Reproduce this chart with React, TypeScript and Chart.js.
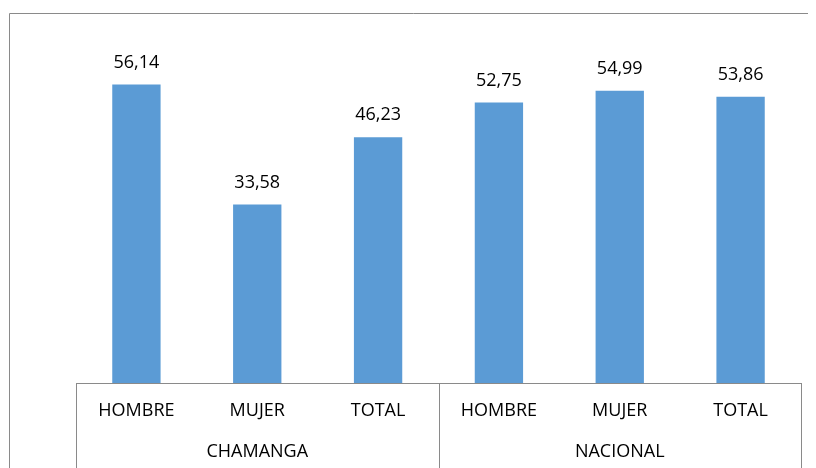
import React, { useEffect, useRef } from "react";
import { Chart, registerables } from "chart.js";

Chart.register(...registerables);

const categories = ["HOMBRE", "MUJER", "TOTAL", "HOMBRE", "MUJER", "TOTAL"];
const groups = ["CHAMANGA", "NACIONAL"];
const values = [56.14, 33.58, 46.23, 52.75, 54.99, 53.86];

const FONT = "'Open Sans', 'Liberation Sans', sans-serif";
const BAR = "#5B9BD5";
const LINE = "#8a8a8a";

const fmt = (v: number) => v.toFixed(2).replace(".", ",");

const decorPlugin = {
  id: "decor",
  beforeDraw(chart: any) {
    const ctx = chart.ctx;
    ctx.save();
    ctx.strokeStyle = LINE;
    ctx.lineWidth = 1;
    ctx.beginPath();
    ctx.moveTo(1.5, chart.height + 10);
    ctx.lineTo(1.5, 5.5);
    ctx.lineTo(chart.width + 10, 5.5);
    ctx.stroke();
    ctx.restore();
  },
  afterDraw(chart: any) {
    const ctx = chart.ctx;
    const g = chart.scales.x2;
    const area = chart.chartArea;
    const b0 = g.left;
    const b2 = g.right;
    const b1 = (g.getPixelForValue(0) + g.getPixelForValue(1)) / 2;
    ctx.save();
    ctx.strokeStyle = LINE;
    ctx.lineWidth = 1;
    ctx.beginPath();
    [b0, b1, b2].forEach((x) => {
      const px = Math.round(x) + 0.5;
      ctx.moveTo(px, Math.round(area.bottom));
      ctx.lineTo(px, chart.height);
    });
    ctx.stroke();

    const meta = chart.getDatasetMeta(0);
    ctx.fillStyle = "#000";
    ctx.font = `18px ${FONT}`;
    ctx.textAlign = "center";
    ctx.textBaseline = "middle";
    meta.data.forEach((bar: any, i: number) => {
      ctx.fillText(fmt(values[i]), bar.x, bar.y - 22);
    });
    ctx.restore();
  },
};

export default function App() {
  const ref = useRef<HTMLCanvasElement>(null);
  useEffect(() => {
    document.documentElement.style.overflow = "hidden";
    document.body.style.overflow = "hidden";
    const chart = new Chart(ref.current as HTMLCanvasElement, {
      type: "bar",
      data: {
        labels: categories,
        datasets: [
          {
            data: values,
            backgroundColor: BAR,
            borderWidth: 0,
            barPercentage: 0.4,
            categoryPercentage: 1,
            xAxisID: "x",
          },
        ],
      },
      options: {
        animation: false,
        responsive: false,
        maintainAspectRatio: false,
        layout: { padding: { left: 68, right: 15, top: 56, bottom: 0 } },
        plugins: { legend: { display: false }, tooltip: { enabled: false } },
        scales: {
          y: { display: false, min: 0, max: 60 },
          x: {
            type: "category",
            position: "bottom",
            weight: 0,
            offset: true,
            grid: { display: false, drawTicks: false },
            border: { display: true, color: LINE, width: 1 },
            ticks: {
              color: "#000",
              font: { family: FONT, size: 18 },
              padding: 17,
              maxRotation: 0,
              autoSkip: false,
            },
            afterFit: (s: any) => {
              s.height = 41;
            },
          },
          x2: {
            type: "category",
            position: "bottom",
            weight: 1,
            offset: true,
            labels: groups,
            grid: { display: false, drawTicks: false },
            border: { display: false },
            ticks: {
              color: "#000",
              font: { family: FONT, size: 18 },
              padding: 17,
              maxRotation: 0,
              autoSkip: false,
            },
            afterFit: (s: any) => {
              s.height = 44;
            },
          },
        },
      },
      plugins: [decorPlugin],
    });
    return () => chart.destroy();
  }, []);
  return (
    <div style={{ width: 808, height: 460, overflow: "hidden" }}>
      <canvas ref={ref} width={808} height={460} style={{ display: "block" }} />
    </div>
  );
}
